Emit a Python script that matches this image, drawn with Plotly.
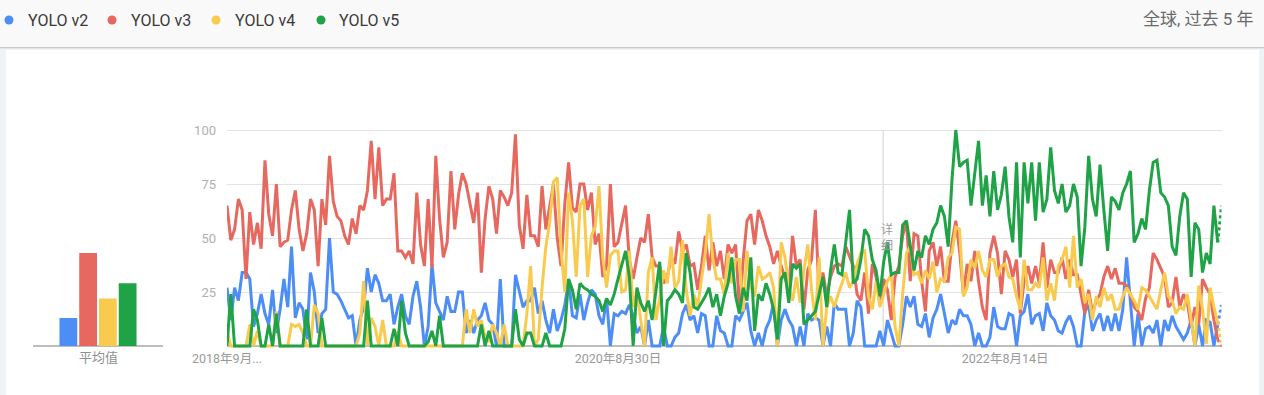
import plotly.graph_objects as go
import pandas as pd

# ---------------- data ----------------
start_date = "2018-09-09"
n_weeks = 263

series_names = ["YOLO v2", "YOLO v3", "YOLO v4", "YOLO v5"]

yolo_v2 = [27,12,27,21,34,34,31,9,15,24,15,10,26,6,17,31,18,46,13,20,17,3,34,25,6,15,17,50,25,24,21,17,13,14,0,
           12,18,36,25,33,29,21,21,24,10,18,24,14,10,23,30,18,0,9,38,20,16,12,23,16,16,25,25,6,12,6,12,14,20,12,10,0,31,0,0,0,33,26,18,21,
           21,27,15,21,12,6,17,7,12,19,31,14,13,24,12,20,26,24,14,10,22,0,15,14,16,15,19,14,6,9,0,12,0,0,0,9,0,0,4,6,15,19,12,14,6,
           15,14,0,0,14,7,6,0,0,14,12,16,20,7,0,6,0,8,12,20,0,12,17,12,9,0,9,0,15,12,13,12,0,9,0,20,17,17,17,0,6,21,18,0,
           0,0,0,7,0,12,6,0,0,10,23,18,23,10,9,15,4,13,17,24,15,6,12,10,17,14,14,10,0,6,0,0,4,18,9,8,8,15,14,0,14,16,24,10,14,
           15,7,20,14,12,7,6,11,14,9,0,0,16,19,7,12,15,7,14,7,15,7,17,41,21,0,15,0,8,9,6,12,0,12,7,14,9,6,3,6,12,0,10,0,12,11,0,10,19]

yolo_v3 = [65,49,54,68,63,31,62,47,57,45,86,61,51,75,46,48,49,63,72,54,44,52,68,63,37,68,56,88,67,60,58,51,47,59,52,
           65,63,72,95,68,92,65,68,68,80,44,44,41,44,38,71,47,37,68,36,88,59,41,48,81,54,70,80,75,66,57,71,34,59,74,68,52,72,69,65,71,98,56,45,70,
           51,51,46,74,54,65,75,50,37,66,85,64,62,75,75,63,71,47,52,32,37,75,46,48,56,65,40,31,41,50,48,61,41,37,37,29,32,41,38,53,44,47,37,38,26,
           37,51,35,48,37,44,31,47,43,47,17,40,58,61,47,63,58,51,46,38,44,37,31,26,51,37,40,17,35,40,63,23,34,23,32,37,38,37,46,41,37,24,21,34,
           15,38,32,21,31,26,12,32,37,51,58,30,52,51,30,16,44,48,37,46,30,30,48,58,44,24,38,30,44,30,18,12,43,51,43,24,44,40,32,40,15,30,37,29,37,
           29,48,27,40,34,34,41,31,40,33,33,24,15,26,15,21,24,32,37,31,36,29,29,28,24,18,16,12,22,27,43,40,36,32,18,20,32,18,24,20,9,18,10,31,27,24,12,3,0]

yolo_v4 = [7,0,0,0,0,0,10,0,7,0,0,0,0,16,0,0,0,10,9,10,6,0,0,19,15,0,0,0,0,0,0,0,0,0,0,
           6,30,0,13,9,0,12,0,0,0,7,0,0,0,0,0,0,0,0,0,0,0,0,0,0,0,0,0,17,6,17,9,12,4,2,10,6,0,10,0,0,0,0,0,15,
           37,0,3,27,46,57,76,78,45,25,71,58,32,65,68,32,51,55,74,41,27,42,44,44,25,26,44,18,26,12,0,34,41,12,22,35,29,46,27,30,49,26,14,24,18,
           31,43,61,40,31,31,24,43,29,40,40,16,44,27,23,37,31,32,34,27,0,48,41,27,21,32,20,35,47,26,12,41,0,18,23,18,24,29,34,27,30,38,43,44,
           23,17,30,18,24,30,33,9,0,24,43,46,33,34,29,35,31,39,25,31,30,41,43,55,54,23,27,40,36,44,35,32,40,40,32,37,38,32,31,23,17,40,26,26,29,
           27,41,21,29,21,37,40,46,27,51,27,31,20,24,12,23,18,27,21,24,17,17,23,27,24,21,17,27,26,23,20,17,26,34,23,21,15,18,17,24,12,0,28,17,1,27,18,11,1]

yolo_v5 = [0,24,0,0,0,0,0,17,12,0,0,10,0,15,0,0,0,0,0,0,0,17,0,0,0,13,0,0,0,0,0,0,0,0,0,
           0,0,21,0,0,0,0,0,0,8,0,21,6,0,0,0,0,0,2,7,0,14,0,0,0,0,0,0,0,0,0,0,10,0,7,0,0,0,0,0,0,17,3,0,6,
           6,0,0,0,6,0,0,0,0,8,31,26,17,29,27,26,24,23,21,16,22,19,24,31,38,44,32,0,27,20,16,21,12,27,39,0,21,23,26,24,20,43,34,18,17,
           20,23,27,18,24,14,23,29,41,23,15,27,21,41,7,24,21,29,24,17,3,31,34,20,38,36,38,10,12,14,16,24,32,18,35,47,34,33,48,63,29,31,40,54,
           51,40,35,23,39,48,33,34,34,56,58,46,35,44,41,51,47,54,57,65,60,46,77,100,83,85,86,65,81,95,65,79,60,81,63,70,83,60,48,85,41,85,66,85,58,
           85,62,68,92,72,66,75,62,65,75,69,37,55,88,68,60,84,63,44,69,67,63,71,75,81,48,52,59,54,72,85,86,71,69,65,46,42,60,71,68,32,57,54,34,43,38,65,48,65]

averages = [13, 43, 22, 29]

x_tick_dates = ["2018-09-09", "2020-08-30", "2022-08-14"]
x_tick_labels = ["2018年9月...", "2020年8月30日", "2022年8月14日"]
y_tick_vals = [25, 50, 75, 100]
note_date = "2022-01-01"
avg_label = "平均值"
region_label = "全球, 过去 5 年"

# ---------------- style ----------------
colors = ["#4d8ef6", "#e6685e", "#f8cb4f", "#20a246"]
W, H = 1264, 395
FONT = "Roboto, 'Noto Sans CJK SC', sans-serif"


def py(px):
    return 1 - px / H


def pxx(px):
    return px / W


dates = pd.date_range(start_date, periods=n_weeks, freq="7D")
all_series = [yolo_v2, yolo_v3, yolo_v4, yolo_v5]

fig = go.Figure()

for name, vals, col in zip(series_names, all_series, colors):
    xs = dates[:len(vals)]
    fig.add_trace(go.Scatter(x=xs[:-1], y=vals[:-1], mode="lines", name=name,
                             line=dict(color=col, width=3), xaxis="x", yaxis="y",
                             showlegend=False, hoverinfo="skip"))
    fig.add_trace(go.Scatter(x=xs[-2:], y=vals[-2:], mode="lines", name=name,
                             line=dict(color=col, width=3, dash="dot"), xaxis="x", yaxis="y",
                             showlegend=False, hoverinfo="skip"))

# average bars
fig.add_trace(go.Bar(x=[0, 1, 2, 3], y=averages, marker=dict(color=colors, line=dict(width=0)),
                     xaxis="x2", yaxis="y2", showlegend=False, hoverinfo="skip"))

y_lo, y_hi = -1.5, 101
y_dom = [py(346 + 1.5 * 2.16), py(130 - 1 * 2.16)]

fig.update_layout(
    width=W, height=H, autosize=False,
    margin=dict(l=0, r=0, t=0, b=0, pad=0, autoexpand=False),
    paper_bgcolor="white", plot_bgcolor="rgba(0,0,0,0)",
    font=dict(family=FONT, color="#999999", size=13),
    bargap=0.1, showlegend=False,
    xaxis=dict(domain=[pxx(227), pxx(1221.5)], type="date",
               range=[dates[0], dates[-1]],
               tickvals=x_tick_dates, ticktext=x_tick_labels,
               showgrid=False, zeroline=False, showline=False, ticks="",
               tickfont=dict(size=12.5, color="#9a9a9a"), fixedrange=True, automargin=False),
    yaxis=dict(domain=y_dom, range=[y_lo, y_hi], tickvals=y_tick_vals,
               showgrid=True, gridcolor="#e3e3e3", gridwidth=1,
               zeroline=True, zerolinecolor="#bdbdbd", zerolinewidth=1.5,
               showline=False, ticks="", ticklabelstandoff=10, automargin=False,
               tickfont=dict(size=13, color="#b0b0b0")),
    xaxis2=dict(domain=[pxx(33), pxx(163)], range=[-1.79, 4.79], automargin=False,
                showgrid=False, zeroline=False, showline=False, showticklabels=False, ticks=""),
    yaxis2=dict(domain=y_dom, range=[y_lo, y_hi], anchor="x2", automargin=False,
                showgrid=False, zeroline=True, zerolinecolor="#bdbdbd", zerolinewidth=1.5,
                showticklabels=False, ticks=""),
)

shapes = [
    # header band
    dict(type="rect", xref="paper", yref="paper", x0=0, x1=1, y0=py(47), y1=1,
         fillcolor="#f9f9f9", line=dict(width=0), layer="below"),
    dict(type="line", xref="paper", yref="paper", x0=0, x1=1, y0=py(47.5), y1=py(47.5),
         line=dict(color="#c9c9c9", width=1), layer="below"),
    dict(type="line", xref="paper", yref="paper", x0=0, x1=1, y0=py(48.5), y1=py(48.5),
         line=dict(color="#e4e4e4", width=1), layer="below"),
    dict(type="line", xref="paper", yref="paper", x0=0, x1=1, y0=py(49.5), y1=py(49.5),
         line=dict(color="#f3f3f3", width=1), layer="below"),
    # side strips
    dict(type="rect", xref="paper", yref="paper", x0=0, x1=pxx(6), y0=0, y1=py(50),
         fillcolor="#eff2f7", line=dict(width=0), layer="below"),
    dict(type="rect", xref="paper", yref="paper", x0=pxx(1259), x1=1, y0=0, y1=py(50),
         fillcolor="#eff2f7", line=dict(width=0), layer="below"),
    # note line
    dict(type="line", xref="x", yref="y", x0=note_date, x1=note_date, y0=0, y1=100,
         line=dict(color="#d0d0d0", width=1), layer="below"),
]

legend_dot_x = [9, 112, 216, 321]
legend_text_x = [26, 129, 233, 337]
for dx, col in zip(legend_dot_x, colors):
    shapes.append(dict(type="circle", xref="paper", yref="paper",
                       x0=pxx(dx - 4.5), x1=pxx(dx + 4.5), y0=py(20 + 4.5), y1=py(20 - 4.5),
                       fillcolor=col, line=dict(width=0)))

annotations = []
for tx, name in zip(legend_text_x, series_names):
    annotations.append(dict(xref="paper", yref="paper", x=pxx(tx), y=py(20), text=name,
                            showarrow=False, xanchor="left", yanchor="middle",
                            font=dict(size=16, color="#3a3a3a", family=FONT)))
annotations.append(dict(xref="paper", yref="paper", x=pxx(1256), y=py(19), text=region_label,
                        showarrow=False, xanchor="right", yanchor="middle",
                        font=dict(size=17, color="#6a6a6a", family=FONT)))
annotations.append(dict(xref="paper", yref="paper", x=pxx(98.5), y=py(357), text=avg_label,
                        showarrow=False, xanchor="center", yanchor="middle",
                        font=dict(size=13, color="#8f8f8f", family=FONT)))
annotations.append(dict(xref="paper", yref="paper", x=pxx(887), y=py(237), text="详<br>细",
                        showarrow=False, xanchor="center", yanchor="middle",
                        font=dict(size=12, color="#9a9a9a", family=FONT)))

fig.update_layout(shapes=shapes, annotations=annotations)

fig.write_html("out.html", include_plotlyjs=True, full_html=True,
               default_width="1264px", default_height="395px",
               config={"displayModeBar": False, "staticPlot": True, "responsive": False},
               post_script="document.body.style.margin='0';document.body.style.padding='0';"
                           "document.documentElement.style.overflow='hidden';"
                           "document.body.style.overflow='hidden';")
